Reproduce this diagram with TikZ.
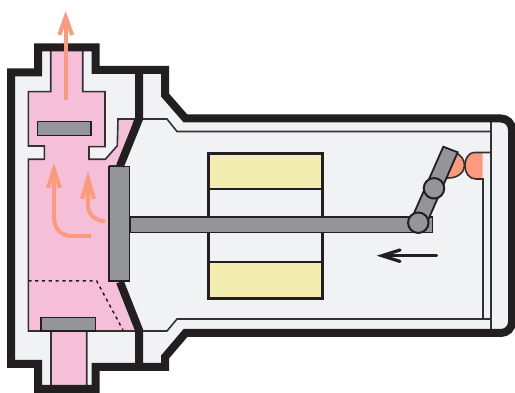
\documentclass[tikz,border=0pt]{standalone}
\usepackage{xcolor}
\usetikzlibrary{arrows.meta}
\definecolor{bodyBlack}{HTML}{231F20}
\definecolor{thinGray}{HTML}{333134}
\definecolor{chamberGray}{HTML}{F1F2F4}
\definecolor{steamPink}{HTML}{F6BFD9}
\definecolor{flowOrange}{HTML}{FB9A7C}
\definecolor{partGray}{HTML}{939598}
\definecolor{coilYellow}{HTML}{F3EDAF}

\begin{document}
\begin{tikzpicture}[
    x=1pt, y=-1pt,
    >=Latex,
    casing/.style={draw=bodyBlack, line width=8pt, miter limit=10},
    wall/.style={draw=thinGray, line width=1.6pt},
    part/.style={draw=bodyBlack, line width=1.8pt, fill=partGray},
    pivot/.style={circle, draw=bodyBlack, line width=2pt, fill=partGray, minimum size=20.5pt, inner sep=0pt},
    coil/.style={draw=bodyBlack, line width=1.5pt, fill=coilYellow},
    flow/.style={draw=flowOrange, line width=4pt, miter limit=10},
    heading/.style={draw=bodyBlack, line width=3.2pt, line cap=round, miter limit=10}
]
\useasboundingbox (0,0) rectangle (515,393);

% Casing interior
\fill[chamberGray] (11,72.5) -- (38,72.5) -- (38,47.5) -- (95.5,47.5) -- (95.5,70) -- (165,70) -- (165,95)
    -- (185.5,118.5) -- (512,118.5) -- (512,333) -- (185.5,333) -- (165,357) -- (165,367) -- (95.5,367)
    -- (95.5,389) -- (38,389) -- (38,364) -- (11,364) -- cycle;

% Pink chamber
\draw[wall, fill=steamPink] (50.7,50) -- (50.7,91.7) -- (28.3,91.7) -- (28.3,146) -- (44.3,146) -- (44.3,159.3)
    -- (28.3,159.3) -- (28.3,331) -- (51,331) -- (51,387) -- (86.7,387) -- (86.7,331) -- (139,331)
    -- (120,282) -- (110,166) -- (120,166) -- (135,119) -- (118,119) -- (117.3,145.7) -- (105.3,159.3)
    -- (89,159.3) -- (89,146.7) -- (105,146.7) -- (105,91.7) -- (82.7,91.7) -- (82.7,50) -- cycle;

% Dotted boundary
\draw[bodyBlack, line width=1.5pt, dash pattern=on 3.2pt off 3.6pt] (28.3,281) -- (96.7,281) -- (123,330);

% Walls of the right chamber
\draw[wall] (142,119) -- (167,119) -- (177,131.5) -- (491,131.5);
\draw[wall] (142,331) -- (167,331) -- (177,319) -- (491,319);
\draw[wall] (491,120) -- (491,333);

% Contact on the wall
\fill[flowOrange] (482.5,153) -- (475,153) .. controls (468,153) and (465,159) .. (465,165.5)
    .. controls (465,173) and (469,179) .. (476,179) -- (482.5,179) -- cycle;
\draw[wall] (491,152.5) -- (475,152.5) .. controls (468,152.5) and (465,159) .. (465,165.5)
    .. controls (465,173) and (469,179) .. (476,179) -- (483,179) -- (483,319);

% Contact on the arm
\draw[wall, fill=flowOrange] (456,153) .. controls (461,155) and (464.5,160) .. (464.5,165.5)
    .. controls (464.5,172) and (458,178.5) .. (447,178);

% Coil
\draw[bodyBlack, line width=3pt, fill=chamberGray] (208.5,154) rectangle (322,298.5);
\draw[coil, draw=none] (210,155.5) rectangle (320.5,189);
\draw[coil, draw=none] (210,262) rectangle (320.5,297);
\draw[bodyBlack, line width=1.5pt] (208.5,189) -- (322,189);
\draw[bodyBlack, line width=1.5pt] (208.5,262) -- (322,262);

% Rod and plate
\draw[part] (130,217) rectangle (432.5,232.5);
\draw[part] (109,166.5) rectangle (129.5,281);

% Arm
\draw[part] (443.3,146.7) -- (457.7,152.3) -- (425.5,226) -- (411,220) -- cycle;
\node[pivot] (pivotLow) at (418.3,222.7) {};
\node[pivot] (pivotHigh) at (434,188.3) {};

% Casing
\draw[casing] (11,72.5) -- (38,72.5) -- (38,47.5) -- (95.5,47.5) -- (95.5,70) -- (165,70) -- (165,95)
    -- (185.5,118.5) [rounded corners=11pt] -- (512,118.5) -- (512,333) [sharp corners] -- (185.5,333)
    -- (165,357) -- (165,367) -- (95.5,367) -- (95.5,389) -- (38,389) -- (38,364) -- (11,364) -- cycle;

% Divider
\draw[bodyBlack, line width=8pt] (139,70) -- (139,119) -- (120,166);
\draw[bodyBlack, line width=8pt] (120,282) -- (139,330) -- (139,367);

% Upper and lower valve
\draw[part] (37.5,121.5) rectangle (91,135.5);
\draw[part] (41,317.5) rectangle (95.5,331);

% Flow arrows
\draw[flow] (65.7,100) -- (65.7,18);
\draw[flow] (59.3,35) -- (65.7,17) -- (72.1,35);
\draw[flow] (91,236) -- (72,236) .. controls (60,236) and (54,228) .. (54,216) -- (54,170);
\draw[flow] (48,188) -- (54,169.5) -- (60,188);
\draw[flow] (105,221.5) .. controls (95,220) and (88,215) .. (88,205) -- (88,179);
\draw[flow] (82,199) -- (88,178.5) -- (94,199);

% Direction arrow
\draw[heading] (436.5,255.7) -- (383,255.7);
\draw[heading] (400,250) -- (382,255.7) -- (400,261.4);

\end{tikzpicture}
\end{document}
